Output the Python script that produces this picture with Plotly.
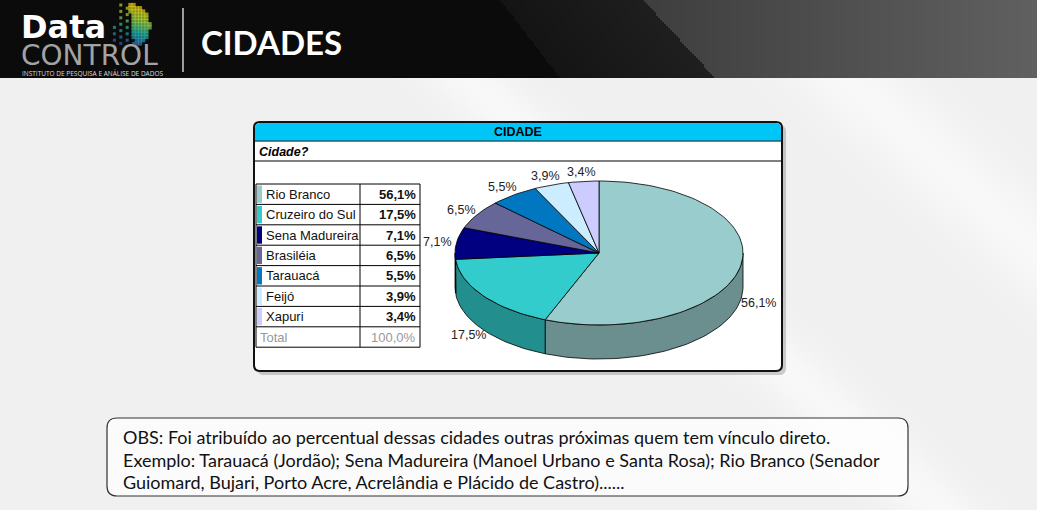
import numpy as np
import plotly.graph_objects as go

# dados do grafico
cidades = ["Rio Branco", "Cruzeiro do Sul", "Sena Madureira", "Brasiléia", "Tarauacá", "Feijó", "Xapuri"]
percentuais = [56.1, 17.5, 7.1, 6.5, 5.5, 3.9, 3.4]
total_label = "Total"
total_valor = 100.0
cores = ["#99CCCC", "#33CCCC", "#000080", "#666699", "#0077C0", "#CCECFF", "#CCCCFF"]

titulo = "CIDADES"
pergunta = "Cidade?"
cabecalho = "CIDADE"
obs = [
    "OBS: Foi atribuído ao percentual dessas cidades outras próximas quem tem vínculo direto.",
    "Exemplo: Tarauacá (Jordão); Sena Madureira (Manoel Urbano e Santa Rosa); Rio Branco (Senador",
    "Guiomard, Bujari, Porto Acre, Acrelândia e Plácido de Castro)......",
]

W, H = 1037, 510
ARIAL = "Liberation Sans, Arial"


def fmt(v):
    return f"{v:.1f}".replace(".", ",") + "%"


def darker(hexc, f=0.7):
    h = hexc.lstrip("#")
    r, g, b = (int(h[i:i + 2], 16) for i in (0, 2, 4))
    return f"rgb({int(r * f)},{int(g * f)},{int(b * f)})"


def rrect(x0, y0, x1, y1, r, top_only=False):
    pts = []
    corners = [(x1 - r, y0 + r, -90, 0), (x1 - r, y1 - r, 0, 90),
               (x0 + r, y1 - r, 90, 180), (x0 + r, y0 + r, 180, 270)]
    for k, (cx, cy, a0, a1) in enumerate(corners):
        if top_only and k in (1, 2):
            pts.append((x1 if k == 1 else x0, y1))
            continue
        for a in np.linspace(a0, a1, 8):
            pts.append((cx + r * np.cos(np.radians(a)), cy + r * np.sin(np.radians(a))))
    pts.append(pts[0])
    xs, ys = zip(*pts)
    return list(xs), list(ys)


def rrect_path(x0, y0, x1, y1, r):
    return (f"M{x0 + r},{y0} L{x1 - r},{y0} Q{x1},{y0} {x1},{y0 + r} L{x1},{y1 - r} "
            f"Q{x1},{y1} {x1 - r},{y1} L{x0 + r},{y1} Q{x0},{y1} {x0},{y1 - r} "
            f"L{x0},{y0 + r} Q{x0},{y0} {x0 + r},{y0} Z")


fig = go.Figure()

# fundo (cabecalho escuro + fundo claro com faixas)
bx = np.arange(0, W, 2) + 1
by = np.arange(0, H, 2) + 1
X, Y = np.meshgrid(bx, by)
z = 240 + 8 * np.exp(-((X - 1.1 * Y - 380) / 45) ** 2) + 8 * np.exp(-((X - 1.1 * Y - 760) / 60) ** 2) \
    + 6 * np.exp(-((X - 1.1 * Y - 1050) / 60) ** 2)
z = np.minimum(z, 252)
d1 = X - (500 + 60 * Y / 78)
d2 = X - (643 + 72 * Y / 78)
head = np.where(d2 > 0, 62 + 34 * (X - 643) / 394, np.where(d1 > 0, 20 + 10 * d1 / 140, 11))
z = np.where(Y < 78, head, z)
fig.add_trace(go.Heatmap(x=bx, y=by, z=z, zmin=0, zmax=255, showscale=False, hoverinfo="skip",
                         colorscale=[[0, "black"], [1, "white"]]))

# logo: cabeca pixelada
gx = np.arange(108, 154, 3.2)
gy = np.arange(5, 44, 3.2)
lx, ly, lc, ls = [], [], [], []
for j, yy in enumerate(gy):
    right = np.interp(yy, [5, 8, 14, 20, 25, 29, 33, 38, 43], [134, 143, 147, 148, 152, 149, 150, 146, 141])
    left_solid = np.interp(yy, [5, 10, 40], [128, 130, 134])
    for i, xx in enumerate(gx):
        if xx > right:
            continue
        solid = xx >= left_solid
        if solid or ((i * 3 + j * 2) % 4 == 0 and xx > 110 + (43 - yy) * 0.2):
            lx.append(xx)
            ly.append(yy)
            lc.append((yy - 5) / 38 - (xx - 130) / 120)
            ls.append(4.2 if solid else 3.0)
fig.add_trace(go.Scatter(x=lx, y=ly, mode="markers", hoverinfo="skip",
                         marker=dict(symbol="square", size=ls, color=lc, cmin=-0.1, cmax=1.1,
                                     colorscale=[[0, "#f7c400"], [0.35, "#9fcf3c"], [0.65, "#1fb2a6"],
                                                 [1, "#3a55b5"]], line=dict(width=0))))

# painel do grafico
sx, sy = rrect(257, 125, 786, 375, 6)
fig.add_trace(go.Scatter(x=sx, y=sy, fill="toself", mode="lines", line=dict(width=0),
                         fillcolor="rgba(0,0,0,0.18)", hoverinfo="skip"))
px_, py_ = rrect(254, 122, 782, 371, 6)
fig.add_trace(go.Scatter(x=px_, y=py_, fill="toself", mode="lines", line=dict(width=0),
                         fillcolor="white", hoverinfo="skip"))
cx_, cy_ = rrect(255, 123, 781, 141, 5, top_only=True)
fig.add_trace(go.Scatter(x=cx_, y=cy_, fill="toself", mode="lines", line=dict(width=0),
                         fillcolor="#00C6F7", hoverinfo="skip"))

# pizza 3D
pcx, pcy, rx, ry, depth = 599, 253, 144, 72, 34
fr = np.array(percentuais) / sum(percentuais)
ends = np.cumsum(fr) * 360
starts = np.concatenate([[0], ends[:-1]])


def arc(a0, a1, dy=0):
    t = np.radians(np.linspace(a0, a1, max(3, int(abs(a1 - a0) / 2) + 2)))
    return pcx + rx * np.sin(t), pcy - ry * np.cos(t) + dy


for a0, a1, c in zip(starts, ends, cores):
    s0, s1 = max(a0, 90), min(a1, 270)
    if s1 > s0:
        tx, ty = arc(s0, s1)
        bx2, by2 = arc(s1, s0, depth)
        fig.add_trace(go.Scatter(x=list(tx) + list(bx2) + [tx[0]], y=list(ty) + list(by2) + [ty[0]],
                                 fill="toself", mode="lines", fillcolor=darker(c),
                                 line=dict(color="black", width=0.8), hoverinfo="skip"))
for a0, a1, c in zip(starts, ends, cores):
    tx, ty = arc(a0, a1)
    fig.add_trace(go.Scatter(x=[pcx] + list(tx) + [pcx], y=[pcy] + list(ty) + [pcy],
                             fill="toself", mode="lines", fillcolor=c,
                             line=dict(color="black", width=0.8), hoverinfo="skip"))

ann = []
for a0, a1, v in zip(starts, ends, percentuais):
    m = np.radians((a0 + a1) / 2)
    lxp = pcx + rx * 1.13 * np.sin(m)
    lyp = pcy - ry * 1.13 * np.cos(m) + (depth if np.cos(m) < 0 else 0)
    ann.append(dict(x=lxp, y=lyp, text=fmt(v), showarrow=False, xanchor="center", yanchor="middle",
                    font=dict(family=ARIAL, size=12.5, color="#222")))

shapes = []
# bordas do painel
shapes.append(dict(type="path", path=rrect_path(254, 122, 782, 371, 6), line=dict(color="#111", width=2)))
shapes.append(dict(type="line", x0=255, x1=781, y0=141, y1=141, line=dict(color="#1d5f72", width=1.5)))
shapes.append(dict(type="line", x0=255, x1=781, y0=161, y1=161, line=dict(color="black", width=1)))

# tabela
t_x0, t_x1, t_xm, t_y0, rh = 256, 420, 360, 184, 20.4
rows = list(zip(cidades, percentuais, cores))
n = len(rows) + 1
for k in range(n + 1):
    shapes.append(dict(type="line", x0=t_x0, x1=t_x1, y0=t_y0 + k * rh, y1=t_y0 + k * rh,
                       line=dict(color="black", width=1)))
for xx in (t_x0, t_xm, t_x1):
    shapes.append(dict(type="line", x0=xx, x1=xx, y0=t_y0, y1=t_y0 + n * rh, line=dict(color="black", width=1)))
for k, (nome, v, c) in enumerate(rows):
    yc = t_y0 + (k + 0.5) * rh
    shapes.append(dict(type="rect", x0=257, x1=262, y0=yc - rh / 2 + 1.5, y1=yc + rh / 2 - 1.5,
                       fillcolor=c, line=dict(width=0)))
    ann.append(dict(x=264, y=yc, text=nome, showarrow=False, xanchor="left", yanchor="middle",
                    font=dict(family=ARIAL, size=13, color="#111")))
    ann.append(dict(x=418, y=yc, text=f"<b>{fmt(v)}</b>", showarrow=False, xanchor="right", yanchor="middle",
                    font=dict(family=ARIAL, size=13, color="#111")))
yc = t_y0 + (n - 0.5) * rh
ann.append(dict(x=258, y=yc, text=total_label, showarrow=False, xanchor="left", yanchor="middle",
                font=dict(family=ARIAL, size=13, color="#999")))
ann.append(dict(x=418, y=yc, text=fmt(total_valor), showarrow=False, xanchor="right", yanchor="middle",
                font=dict(family=ARIAL, size=13, color="#999")))

ann.append(dict(x=518, y=132, text=f"<b>{cabecalho}</b>", showarrow=False, xanchor="center", yanchor="middle",
                font=dict(family=ARIAL, size=12.5, color="black")))
ann.append(dict(x=257, y=152, text=f"<b><i>{pergunta}</i></b>", showarrow=False, xanchor="left",
                yanchor="middle", font=dict(family=ARIAL, size=12.5, color="black")))

# caixa de observacao
shapes.append(dict(type="path", path=rrect_path(107, 418, 908, 496, 10), fillcolor="rgba(255,255,255,0.75)",
                   line=dict(color="#333", width=1.2)))
for k, linha in enumerate(obs):
    ann.append(dict(x=121, y=437 + k * 22.5, text=linha, showarrow=False, xanchor="left", yanchor="middle",
                    font=dict(family="Lato", size=18, color="#111")))

# cabecalho
shapes.append(dict(type="line", x0=183, x1=183, y0=8, y1=72, line=dict(color="#cfcfcf", width=1.5)))
ann.append(dict(x=19, y=27, text="<b>Data</b>", showarrow=False, xanchor="left", yanchor="middle",
                font=dict(family="DejaVu Sans", size=32, color="white")))
ann.append(dict(x=19, y=55, text="CONTROL", showarrow=False, xanchor="left", yanchor="middle",
                font=dict(family="DejaVu Sans", size=28, color="#a3a3a3")))
ann.append(dict(x=20, y=73.5, text="INSTITUTO DE PESQUISA E ANÁLISE DE DADOS", showarrow=False, xanchor="left",
                yanchor="middle", font=dict(family="Open Sans", size=6.5, color="#dddddd")))
ann.append(dict(x=199, y=42, text=f"<b>{titulo}</b>", showarrow=False, xanchor="left", yanchor="middle",
                font=dict(family="Lato", size=33, color="white")))

fig.update_layout(
    width=W, height=H, margin=dict(l=0, r=0, t=0, b=0),
    paper_bgcolor="#f1f1f1", plot_bgcolor="#f1f1f1", showlegend=False,
    xaxis=dict(range=[0, W], visible=False, fixedrange=True),
    yaxis=dict(range=[H, 0], visible=False, fixedrange=True),
    shapes=shapes, annotations=ann,
)
fig.write_html("out.html", config={"displayModeBar": False},
               post_script="document.body.style.margin='0';document.body.style.overflow='hidden';")
